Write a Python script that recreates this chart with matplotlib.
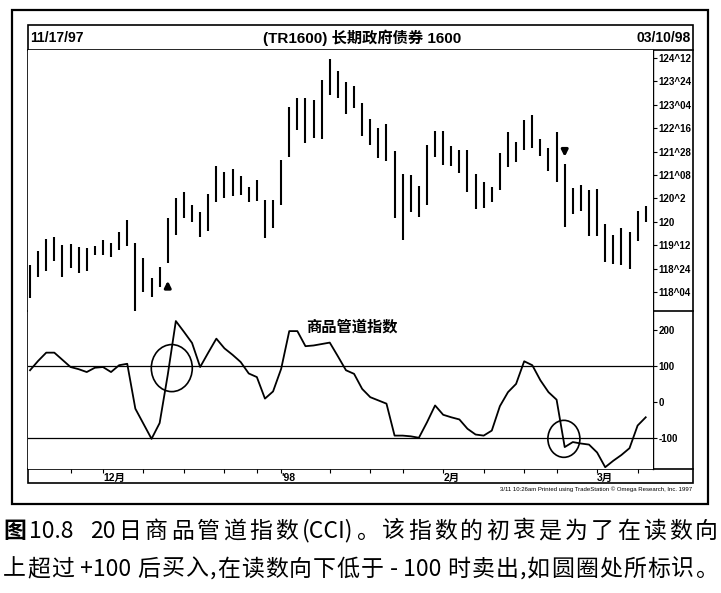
import matplotlib
matplotlib.use("Agg")
import matplotlib.pyplot as plt
from matplotlib.patches import Ellipse, Rectangle

plt.rcParams['font.family'] = ['Liberation Sans', 'Noto Sans CJK SC', 'DejaVu Sans']

# 日线数据 (TR1600 长期政府债券), 每根K线的最高/最低
highs = [118.85, 119.22, 119.54, 119.59, 119.38, 119.41, 119.33, 119.30, 119.35, 119.51,
         119.43, 119.73, 120.05, 119.43, 119.03, 118.50, 118.79, 120.10, 120.64, 120.80,
         120.45, 120.26, 120.74, 121.49, 121.33, 121.41, 121.22, 120.93, 121.12, 120.58,
         120.58, 121.65, 123.07, 123.31, 123.31, 123.25, 123.79, 124.35, 124.03, 123.73,
         123.63, 123.17, 122.75, 122.50, 122.61, 121.89, 121.28, 121.25, 120.96, 122.05,
         122.43, 122.43, 122.02, 121.92, 121.92, 121.28, 121.06, 120.93, 121.84, 122.40,
         122.13, 122.72, 122.85, 122.21, 121.97, 122.40, 121.54, 120.90, 120.98, 120.85,
         120.88, 119.94, 119.65, 119.83, 119.73, 120.29, 120.42]
lows = [117.97, 118.53, 118.69, 118.95, 118.53, 118.77, 118.63, 118.69, 119.11, 119.11,
        119.06, 119.25, 119.35, 117.50, 118.13, 117.99, 118.26, 118.90, 119.65, 120.10,
        120.00, 119.59, 119.75, 120.53, 120.64, 120.69, 120.72, 120.53, 120.56, 119.57,
        119.83, 120.45, 121.73, 122.45, 122.10, 122.24, 122.21, 123.39, 123.31, 122.88,
        123.04, 122.29, 122.05, 121.70, 121.62, 120.10, 119.51, 120.26, 120.13, 120.45,
        121.73, 121.52, 121.49, 121.30, 120.80, 120.34, 120.37, 120.53, 120.85, 121.46,
        121.60, 121.92, 121.97, 121.76, 121.36, 121.06, 119.86, 120.21, 120.29, 119.62,
        119.62, 118.93, 118.87, 118.85, 118.74, 119.49, 120.00]

# CCI(20)
cci = [89, 115, 138, 138, 118, 98, 92, 84, 96, 98,
       84, 103, 107, -18, -60, -102, -58, 76, 226, 196,
       165, 98, 138, 177, 150, 132, 112, 80, 70, 10,
       30, 93, 198, 198, 156, 158, 162, 166, 128, 89,
       79, 37, 14, 5, -4, -93, -93, -95, -99, -56,
       -9, -35, -42, -48, -74, -90, -93, -79, -11, 28,
       51, 114, 103, 61, 28, 7, -125, -111, -115, -118,
       -140, -181, -163, -147, -128, -65, -42]

price_ticks = [124.375, 123.75, 123.125, 122.5, 121.875, 121.25, 120.625, 120.0, 119.375, 118.75, 118.125]
price_labels = ['124^12', '123^24', '123^04', '122^16', '121^28', '121^08', '120^2', '120', '119^12', '118^24', '118^04']
cci_ticks = [200, 100, 0, -100]
week_ticks = [5, 9, 14, 19, 24, 28, 31, 37, 42, 46, 51, 56, 61, 65, 70, 75]
month_pos = [9, 31, 51, 70]
month_labels = ['12月', "'98", '2月', '3月']
buy_bar, sell_bar = 17, 66

caption1 = ['图', '10.8', '  ', '20', '日', '商', '品', '管', '道', '指', '数', '(CCI)', '。',
            '该', '指', '数', '的', '初', '衷', '是', '为', '了', '在', '读', '数', '向']
caption2 = ['上', '超', '过', ' +100 ', '后', '买', '入', ',', '在', '读', '数', '向', '下', '低', '于',
            ' - 100 ', '时', '卖', '出', ',', '如', '圆', '圈', '处', '所', '标', '识', '。']

W, H = 721, 593
x = list(range(len(highs)))


def box(x0, y0, x1, y1):
    return [x0 / W, 1 - y1 / H, (x1 - x0) / W, (y1 - y0) / H]


fig = plt.figure(figsize=(W / 100, H / 100), dpi=100)
fig.patch.set_facecolor('white')

# 外框和分隔线 (像素坐标)
bg = fig.add_axes([0, 0, 1, 1])
bg.set_xlim(0, W)
bg.set_ylim(H, 0)
bg.axis('off')
bg.add_patch(Rectangle((12, 10), 696, 494, fill=False, lw=1.6, color='k'))
bg.add_patch(Rectangle((28, 25), 665, 458, fill=False, lw=1.2, color='k'))
bg.plot([28, 693], [50, 50], 'k', lw=1.2)
bg.plot([28, 693], [311, 311], 'k', lw=1.2)
bg.plot([28, 693], [469, 469], 'k', lw=1.2)
bg.plot([653, 653], [50, 469], 'k', lw=1.0)

bg.text(30, 38, '11/17/97', fontsize=10, fontweight='bold', va='center', ha='left')
bg.text(362, 38, '(TR1600) 长期政府债券 1600', fontsize=11, fontweight='bold', va='center', ha='center')
bg.text(691, 38, '03/10/98', fontsize=10, fontweight='bold', va='center', ha='right')
bg.text(692, 489, '3/11 10:26am Printed using TradeStation © Omega Research, Inc. 1997',
        fontsize=4.3, va='center', ha='right')

# 价格图
ax1 = fig.add_axes(box(28, 50, 653, 311))
ax1.vlines(x, lows, highs, color='k', lw=1.5)
ax1.set_xlim(-0.25, 76.9)
ax1.set_ylim(117.617, 124.589)
ax1.yaxis.tick_right()
ax1.set_yticks(price_ticks)
ax1.set_yticklabels(price_labels, fontsize=7, fontweight='bold')
ax1.tick_params(axis='y', length=3, width=0.8, pad=1)
ax1.set_xticks([])
for s in ax1.spines.values():
    s.set_visible(False)
ax1.annotate('', xy=(buy_bar, lows[buy_bar] - 0.4), xytext=(buy_bar, lows[buy_bar] - 0.75),
             arrowprops=dict(arrowstyle='-|>', color='k', lw=2.2, mutation_scale=9))
ax1.annotate('', xy=(sell_bar, highs[sell_bar] + 0.12), xytext=(sell_bar, highs[sell_bar] + 0.47),
             arrowprops=dict(arrowstyle='-|>', color='k', lw=2.2, mutation_scale=9))

# CCI 图
ax2 = fig.add_axes(box(28, 311, 653, 469))
ax2.plot(x, cci, color='k', lw=1.3)
ax2.axhline(100, color='k', lw=0.9)
ax2.axhline(-100, color='k', lw=0.9)
ax2.set_xlim(-0.25, 76.9)
ax2.set_ylim(-186, 254)
ax2.yaxis.tick_right()
ax2.set_yticks(cci_ticks)
ax2.set_yticklabels([str(t) for t in cci_ticks], fontsize=7, fontweight='bold')
ax2.tick_params(axis='y', length=3, width=0.8, pad=1)
ax2.set_xticks([])
for s in ax2.spines.values():
    s.set_visible(False)
ax2.text(0.518, 0.9, '商品管道指数', transform=ax2.transAxes, fontsize=11, fontweight='bold',
         ha='center', va='center')
ax2.add_patch(Ellipse((17.5, 95), 5.06, 131, fill=False, lw=1.2, color='k'))
ax2.add_patch(Ellipse((65.9, -102), 3.95, 103, fill=False, lw=1.2, color='k'))

# 日期轴
ax3 = fig.add_axes(box(28, 469, 653, 483))
ax3.set_xlim(-0.25, 76.9)
ax3.set_ylim(0, 1)
ax3.set_yticks([])
ax3.xaxis.tick_top()
ax3.set_xticks(week_ticks)
ax3.set_xticklabels([])
ax3.tick_params(axis='x', direction='in', length=3, width=0.8)
for s in ax3.spines.values():
    s.set_visible(False)
ax3.patch.set_alpha(0)
for p, lab in zip(month_pos, month_labels):
    ax3.text(p, 0.35, lab, fontsize=7.5, fontweight='bold', ha='left', va='center')


# 图注: 两端对齐排版
def justify(parts, y, x0=3, x1=718, bold_first=False):
    fig.canvas.draw()
    r = fig.canvas.get_renderer()
    ts = []
    for i, p in enumerate(parts):
        t = bg.text(0, y, p, family=['Noto Sans CJK SC', 'DejaVu Sans'], fontsize=16.5,
                    va='center', ha='left',
                    fontweight='bold' if (bold_first and i == 0) else 'normal')
        ts.append(t)
    widths = [t.get_window_extent(r).width for t in ts]
    gap = (x1 - x0 - sum(widths)) / (len(parts) - 1)
    pos = x0
    for t, w in zip(ts, widths):
        t.set_x(pos)
        pos += w + gap


justify(caption1, 531, bold_first=True)
justify(caption2, 569)

fig.savefig('out.png', dpi=100)
